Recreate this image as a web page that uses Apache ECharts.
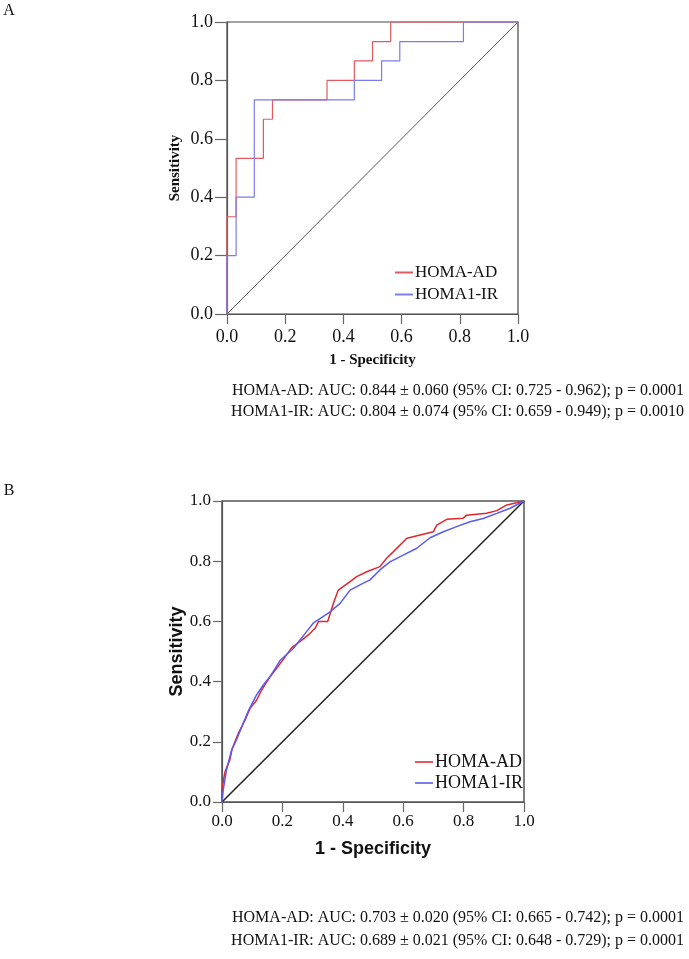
<!DOCTYPE html>
<html>
<head>
<meta charset="utf-8">
<script src="https://cdn.jsdelivr.net/npm/echarts@6/dist/echarts.min.js"></script>
<style>html,body{margin:0;padding:0;background:#fff;}#c{width:689px;height:959px;}</style>
</head>
<body>
<div id="c"></div>
<script>
// Panel A (step ROC curves): 1 - specificity, sensitivity
const aAD_fpr = [0, 0, 0.03125, 0.125, 0.15625, 0.34375, 0.4375, 0.5, 0.5625, 1.0];
const aAD_tpr = [0, 0.333, 0.533, 0.667, 0.733, 0.8, 0.867, 0.933, 1.0, 1.0];
const aIR_fpr = [0, 0, 0.03125, 0.09375, 0.4375, 0.53125, 0.59375, 0.8125, 1.0];
const aIR_tpr = [0, 0.2, 0.4, 0.733, 0.8, 0.867, 0.933, 1.0, 1.0];
// Panel B
const bAD_fpr = [0, 0.0, 0.01, 0.026, 0.034, 0.054, 0.076, 0.093, 0.115, 0.131, 0.159, 0.181, 0.209, 0.231, 0.264, 0.286, 0.308, 0.32, 0.35, 0.369, 0.385, 0.424, 0.446, 0.479, 0.523, 0.545, 0.567, 0.612, 0.656, 0.70, 0.711, 0.744, 0.799, 0.81, 0.876, 0.91, 0.943, 0.976, 1.0];
const bAD_tpr = [0, 0.045, 0.10, 0.14, 0.178, 0.228, 0.272, 0.311, 0.339, 0.372, 0.416, 0.444, 0.482, 0.513, 0.538, 0.555, 0.577, 0.600, 0.600, 0.66, 0.704, 0.732, 0.749, 0.765, 0.782, 0.81, 0.831, 0.876, 0.887, 0.898, 0.92, 0.939, 0.943, 0.953, 0.959, 0.968, 0.987, 0.994, 1.0];
const bIR_fpr = [0, 0.004, 0.015, 0.031, 0.048, 0.064, 0.086, 0.114, 0.136, 0.163, 0.192, 0.236, 0.28, 0.302, 0.358, 0.391, 0.424, 0.468, 0.49, 0.523, 0.556, 0.6, 0.645, 0.689, 0.733, 0.777, 0.821, 0.865, 0.91, 0.954, 1.0];
const bIR_tpr = [0, 0.04, 0.107, 0.17, 0.207, 0.246, 0.30, 0.355, 0.388, 0.422, 0.47, 0.51, 0.566, 0.594, 0.632, 0.66, 0.704, 0.727, 0.738, 0.771, 0.798, 0.82, 0.843, 0.878, 0.898, 0.915, 0.931, 0.942, 0.959, 0.976, 1.0];
const refLine = [[0, 0], [1, 1]];
const seriesNames = ['HOMA-AD', 'HOMA1-IR'];
const panelLabels = ['A', 'B'];
const textA = ['HOMA-AD: AUC: 0.844 ± 0.060 (95% CI: 0.725 - 0.962); p = 0.0001',
               'HOMA1-IR: AUC: 0.804 ± 0.074 (95% CI: 0.659 - 0.949); p = 0.0010'];
const textB = ['HOMA-AD: AUC: 0.703 ± 0.020 (95% CI: 0.665 - 0.742); p = 0.0001',
               'HOMA1-IR: AUC: 0.689 ± 0.021 (95% CI: 0.648 - 0.729); p = 0.0001'];
const xTitle = '1 - Specificity';
const yTitle = 'Sensitivity';

const zip = (xs, ys) => xs.map((x, i) => [x, ys[i]]);
const SERIF = '"Liberation Serif", "Times New Roman", serif';
const SANS = '"Liberation Sans", Arial, sans-serif';
const fmt = v => v.toFixed(1);

function mkX(gi, labelMargin, labelSize, nameFont, nameGap) {
  return {
    type: 'value', gridIndex: gi, min: 0, max: 1, interval: 0.2,
    name: xTitle, nameLocation: 'middle', nameGap: nameGap,
    nameTextStyle: nameFont,
    axisLine: { show: true, lineStyle: { color: '#555', width: 1.2 } },
    axisTick: { show: true, length: 10, lineStyle: { color: '#666', width: 1.2 } },
    axisLabel: { formatter: fmt, margin: labelMargin, fontFamily: SERIF, fontSize: labelSize, color: '#111' },
    splitLine: { show: false }
  };
}
function mkY(gi, labelMargin, tickLen, labelSize, nameFont, nameGap) {
  return {
    type: 'value', gridIndex: gi, min: 0, max: 1, interval: 0.2,
    name: yTitle, nameLocation: 'middle', nameGap: nameGap,
    nameTextStyle: nameFont,
    axisLine: { show: true, lineStyle: { color: '#555', width: 1.2 } },
    axisTick: { show: true, length: tickLen, lineStyle: { color: '#666', width: 1.2 } },
    axisLabel: { formatter: fmt, margin: labelMargin, fontFamily: SERIF, fontSize: labelSize, color: '#111' },
    splitLine: { show: false }
  };
}

const chart = echarts.init(document.getElementById('c'), null, { renderer: 'canvas' });
chart.setOption({
  animation: false,
  backgroundColor: '#fff',
  grid: [
    { left: 227, top: 22, width: 291, height: 292, show: true, borderColor: '#444', borderWidth: 1.2, backgroundColor: 'transparent' },
    { left: 222, top: 501, width: 302, height: 301, show: true, borderColor: '#555', borderWidth: 1.5, backgroundColor: 'transparent' }
  ],
  xAxis: [
    mkX(0, 14, 18, { fontFamily: SERIF, fontWeight: 'bold', fontSize: 15, color: '#111' }, 39),
    mkX(1, 11, 17, { fontFamily: SANS, fontWeight: 'bold', fontSize: 18, color: '#111' }, 38)
  ],
  yAxis: [
    mkY(0, 14, 12, 18, { fontFamily: SERIF, fontWeight: 'bold', fontSize: 15, color: '#111' }, 44),
    mkY(1, 11, 9, 17, { fontFamily: SANS, fontWeight: 'bold', fontSize: 18, color: '#111' }, 36)
  ],
  legend: [
    { data: seriesNames, orient: 'vertical', left: 390, top: 259, itemWidth: 18, itemHeight: 2, itemGap: 5, icon: 'rect',
      textStyle: { fontFamily: SERIF, fontSize: 17, color: '#111', padding: [0, 0, 0, -3] }, selectedMode: false },
    { data: seriesNames, orient: 'vertical', left: 410, top: 748, itemWidth: 18, itemHeight: 2, itemGap: 3, icon: 'rect',
      textStyle: { fontFamily: SERIF, fontSize: 18, color: '#111', padding: [0, 0, 0, -3] }, selectedMode: false }
  ],
  series: [
    { type: 'line', xAxisIndex: 0, yAxisIndex: 0, data: refLine, symbol: 'none', silent: true,
      lineStyle: { color: '#555', width: 1 } },
    { name: seriesNames[0], type: 'line', xAxisIndex: 0, yAxisIndex: 0, data: zip(aAD_fpr, aAD_tpr), step: 'end', symbol: 'none',
      itemStyle: { color: '#e35a5e' }, lineStyle: { color: '#e35a5e', width: 1.2 } },
    { name: seriesNames[1], type: 'line', xAxisIndex: 0, yAxisIndex: 0, data: zip(aIR_fpr, aIR_tpr), step: 'end', symbol: 'none',
      itemStyle: { color: '#7b7bee' }, lineStyle: { color: '#7b7bee', width: 1.2 } },
    { type: 'line', xAxisIndex: 1, yAxisIndex: 1, data: refLine, symbol: 'none', silent: true,
      lineStyle: { color: '#222', width: 1.5 } },
    { name: seriesNames[0], type: 'line', xAxisIndex: 1, yAxisIndex: 1, data: zip(bAD_fpr, bAD_tpr), symbol: 'none',
      itemStyle: { color: '#e0262e' }, lineStyle: { color: '#e0262e', width: 1.5 } },
    { name: seriesNames[1], type: 'line', xAxisIndex: 1, yAxisIndex: 1, data: zip(bIR_fpr, bIR_tpr), symbol: 'none',
      itemStyle: { color: '#5a5af0' }, lineStyle: { color: '#5a5af0', width: 1.5 } }
  ],
  graphic: [
    { type: 'text', x: 9, y: 11, style: { text: panelLabels[0], font: '16px ' + SERIF, fill: '#111', align: 'center', verticalAlign: 'middle' } },
    { type: 'text', x: 9, y: 491, style: { text: panelLabels[1], font: '16px ' + SERIF, fill: '#111', align: 'center', verticalAlign: 'middle' } },
    { type: 'text', x: 684, y: 391, style: { text: textA[0], font: '16px ' + SERIF, fill: '#111', align: 'right', verticalAlign: 'middle' } },
    { type: 'text', x: 684, y: 412, style: { text: textA[1], font: '16px ' + SERIF, fill: '#111', align: 'right', verticalAlign: 'middle' } },
    { type: 'text', x: 684, y: 918, style: { text: textB[0], font: '16px ' + SERIF, fill: '#111', align: 'right', verticalAlign: 'middle' } },
    { type: 'text', x: 684, y: 941, style: { text: textB[1], font: '16px ' + SERIF, fill: '#111', align: 'right', verticalAlign: 'middle' } }
  ]
});
</script>
</body>
</html>
